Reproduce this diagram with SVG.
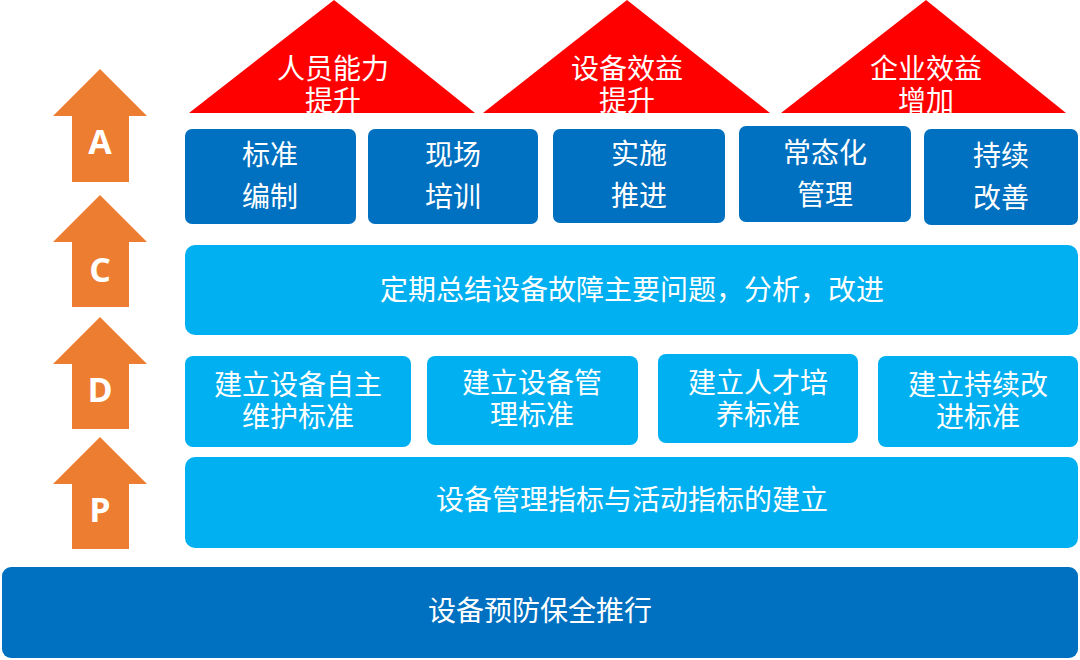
<svg xmlns="http://www.w3.org/2000/svg" width="1080" height="660" viewBox="0 0 1080 660">
<style>
.dk{fill:#0070C0}
.lt{fill:#00B0F0}
.tri{fill:#FF0000}
.arr{fill:#ED7D31}
.t{font-family:"Microsoft YaHei","Noto Sans CJK SC",sans-serif;font-size:28px;fill:#FFFFFF;text-anchor:middle}
.L{font-family:"Open Sans","DejaVu Sans",sans-serif;font-weight:bold;font-size:34px;fill:#FFFFFF;text-anchor:middle}
</style>
<rect width="1080" height="660" fill="#FFFFFF"/>
<g id="arrows">
<g id="arrow-A"><polygon class="arr" points="100,69 147,116 129,116 129,182 72,182 72,116 53,116"/><text class="L" x="100" y="154">A</text></g>
<g id="arrow-C"><polygon class="arr" points="100,195 147,242 129,242 129,307 72,307 72,242 53,242"/><text class="L" x="100" y="282">C</text></g>
<g id="arrow-D"><polygon class="arr" points="100,317 147,364 129,364 129,429 72,429 72,364 53,364"/><text class="L" x="100" y="402">D</text></g>
<g id="arrow-P"><polygon class="arr" points="100,437 147,484 129,484 129,549 72,549 72,484 53,484"/><text class="L" x="100" y="522">P</text></g>
</g>
<g id="roof-1"><polygon class="tri" points="334,0 475,113 189,113"/><text class="t" x="333" y="79">人员能力</text><text class="t" x="333" y="111">提升</text></g>
<g id="roof-2"><polygon class="tri" points="627,0 770,113 483,113"/><text class="t" x="627" y="79">设备效益</text><text class="t" x="627" y="111">提升</text></g>
<g id="roof-3"><polygon class="tri" points="926,0 1066,113 781,113"/><text class="t" x="926" y="79">企业效益</text><text class="t" x="926" y="111">增加</text></g>
<g id="a-1"><rect class="dk" x="185" y="129" width="171" height="95" rx="7"/><text class="t" x="270" y="165">标准</text><text class="t" x="270" y="207">编制</text></g>
<g id="a-2"><rect class="dk" x="368" y="129" width="170" height="95" rx="7"/><text class="t" x="453" y="165">现场</text><text class="t" x="453" y="207">培训</text></g>
<g id="a-3"><rect class="dk" x="553" y="129" width="172" height="94" rx="7"/><text class="t" x="639" y="164">实施</text><text class="t" x="639" y="206">推进</text></g>
<g id="a-4"><rect class="dk" x="739" y="126" width="172" height="96" rx="7"/><text class="t" x="825" y="163">常态化</text><text class="t" x="825" y="205">管理</text></g>
<g id="a-5"><rect class="dk" x="924" y="129" width="154" height="96" rx="7"/><text class="t" x="1001" y="166">持续</text><text class="t" x="1001" y="208">改善</text></g>
<g id="c-bar"><rect class="lt" x="185" y="245" width="893" height="90" rx="10"/><text class="t" x="632" y="300">定期总结设备故障主要问题，分析，改进</text></g>
<g id="d-1"><rect class="lt" x="185" y="356" width="226" height="91" rx="8"/><text class="t" x="298" y="395">建立设备自主</text><text class="t" x="298" y="427">维护标准</text></g>
<g id="d-2"><rect class="lt" x="427" y="356" width="211" height="89" rx="8"/><text class="t" x="532" y="393">建立设备管</text><text class="t" x="532" y="425">理标准</text></g>
<g id="d-3"><rect class="lt" x="658" y="354" width="200" height="89" rx="8"/><text class="t" x="758" y="393">建立人才培</text><text class="t" x="758" y="425">养标准</text></g>
<g id="d-4"><rect class="lt" x="878" y="356" width="200" height="91" rx="8"/><text class="t" x="978" y="395">建立持续改</text><text class="t" x="978" y="427">进标准</text></g>
<g id="p-bar"><rect class="lt" x="185" y="457" width="893" height="91" rx="10"/><text class="t" x="632" y="510">设备管理指标与活动指标的建立</text></g>
<g id="base"><rect class="dk" x="2" y="567" width="1076" height="91" rx="9"/><text class="t" x="540" y="621">设备预防保全推行</text></g>
<g id="connectors"/>
</svg>
